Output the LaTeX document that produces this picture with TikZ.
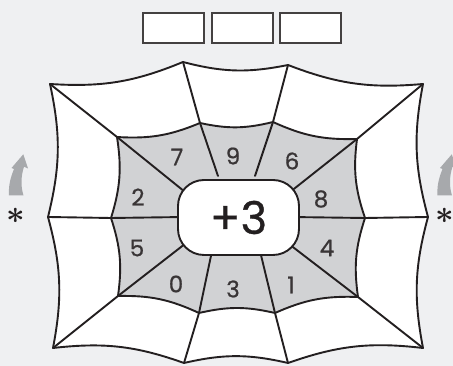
\documentclass[tikz,border=0pt]{standalone}
\usepackage{fontspec}
\usepackage{bm}
\usepackage{graphicx}
\setmainfont{Poppins}
\newfontfamily\numfont[FakeBold=0.7]{Poppins}
\definecolor{bg}{HTML}{EFF0F2}
\definecolor{ring}{HTML}{D1D2D4}
\definecolor{arrowgray}{HTML}{A7A9AC}
\definecolor{ink}{HTML}{231F20}
\tikzset{
  web/.style={draw=ink, line width=1.9pt, line join=round, line cap=round},
  sag/.style={bend right=13},
  digit/.style={font=\numfont\fontsize{23}{23}\selectfont, text=ink!90, inner sep=0pt},
  answerbox/.style={draw=ink!85, line width=1.1pt, fill=white, minimum width=61pt, minimum height=30pt, inner sep=0pt},
  hub/.style={draw=ink, line width=1.9pt, fill=white, rounded corners=26pt, minimum width=121pt, minimum height=75pt, inner sep=0pt, font=\numfont\fontsize{45}{45}\selectfont, text=ink},
  star/.style={text=ink, inner sep=0pt},
  curlarrow/.style={fill=arrowgray},
}
\begin{document}
\begin{tikzpicture}[x=1pt,y=1pt]
\useasboundingbox (0,0) rectangle (453,366);
\fill[bg] (0,0) rectangle (453,366);
% answer boxes
\node[answerbox] (b1) at (173.5,338) {};
\node[answerbox] (b2) at (242.5,338) {};
\node[answerbox] (b3) at (310.5,338) {};
% outer vertices
\coordinate (o1) at (50,282);
\coordinate (o2) at (183,304);
\coordinate (o3) at (288,301);
\coordinate (o4) at (423,282);
\coordinate (o5) at (428,149);
\coordinate (o6) at (423,18);
\coordinate (o7) at (288,3);
\coordinate (o8) at (184,3);
\coordinate (o9) at (53,18);
\coordinate (o10) at (48,149);
% inner vertices
\coordinate (i1) at (117,229);
\coordinate (i2) at (200,243);
\coordinate (i3) at (273,244);
\coordinate (i4) at (357,227);
\coordinate (i5) at (365,148);
\coordinate (i6) at (358,69);
\coordinate (i7) at (275,53);
\coordinate (i8) at (199,53);
\coordinate (i9) at (118,70);
\coordinate (i10) at (111,148);
% spoke ends (inside the hub)
\coordinate (s1) at (190,170);
\coordinate (s2) at (218,190);
\coordinate (s3) at (255,190);
\coordinate (s4) at (285,170);
\coordinate (s5) at (290,149);
\coordinate (s6) at (285,125);
\coordinate (s7) at (260,115);
\coordinate (s8) at (212,115);
\coordinate (s9) at (190,126);
\coordinate (s10) at (185,149);
% fills
\fill[white] (o1) to[sag] (o2) to[sag] (o3) to[sag] (o4) to[sag] (o5) to[sag] (o6) to[sag] (o7) to[sag] (o8) to[sag] (o9) to[sag] (o10) to[sag] (o1);
\fill[ring] (i1) to[sag] (i2) to[sag] (i3) to[sag] (i4) to[sag] (i5) to[sag] (i6) to[sag] (i7) to[sag] (i8) to[sag] (i9) to[sag] (i10) to[sag] (i1);
% spokes
\foreach \k in {1,...,10} {
  \draw[web] (o\k) -- (i\k) -- (s\k);
}
% rings
\draw[web] (o1) to[sag] (o2) to[sag] (o3) to[sag] (o4) to[sag] (o5) to[sag] (o6) to[sag] (o7) to[sag] (o8) to[sag] (o9) to[sag] (o10) to[sag] (o1) -- cycle;
\draw[web] (i1) to[sag] (i2) to[sag] (i3) to[sag] (i4) to[sag] (i5) to[sag] (i6) to[sag] (i7) to[sag] (i8) to[sag] (i9) to[sag] (i10) to[sag] (i1) -- cycle;
% hub
\node[hub] (c) at (238.5,148.5) {+3};
% digits
\node[digit] (d7) at (177,209) {7};
\node[digit] (d9) at (233,210) {9};
\node[digit] (d6) at (292,205) {6};
\node[digit] (d8) at (321,167) {8};
\node[digit] (d4) at (327,118) {4};
\node[digit] (d1) at (291,81) {1};
\node[digit] (d3) at (233,77) {3};
\node[digit] (d0) at (176,82) {0};
\node[digit] (d5) at (137,118) {5};
\node[digit] (d2) at (138,169) {2};
% side marks
\foreach \dx/\nm in {0/L,428.5/R} {
  \begin{scope}[xshift=\dx]
  \fill[curlarrow] (9,170.5) .. controls (8.5,180) and (10,187) .. (14,197) -- (11.5,198) -- (23.3,211.7) -- (28,197.5) -- (24,199.3) .. controls (21,190) and (20.5,180) .. (23.5,170.5) -- cycle;
  \node[star] (star\nm) at (16,150.5) {\scalebox{1.3}{\fontsize{24.88}{25}\selectfont$\bm{\ast}$}};
  \end{scope}
}
\end{tikzpicture}
\end{document}
